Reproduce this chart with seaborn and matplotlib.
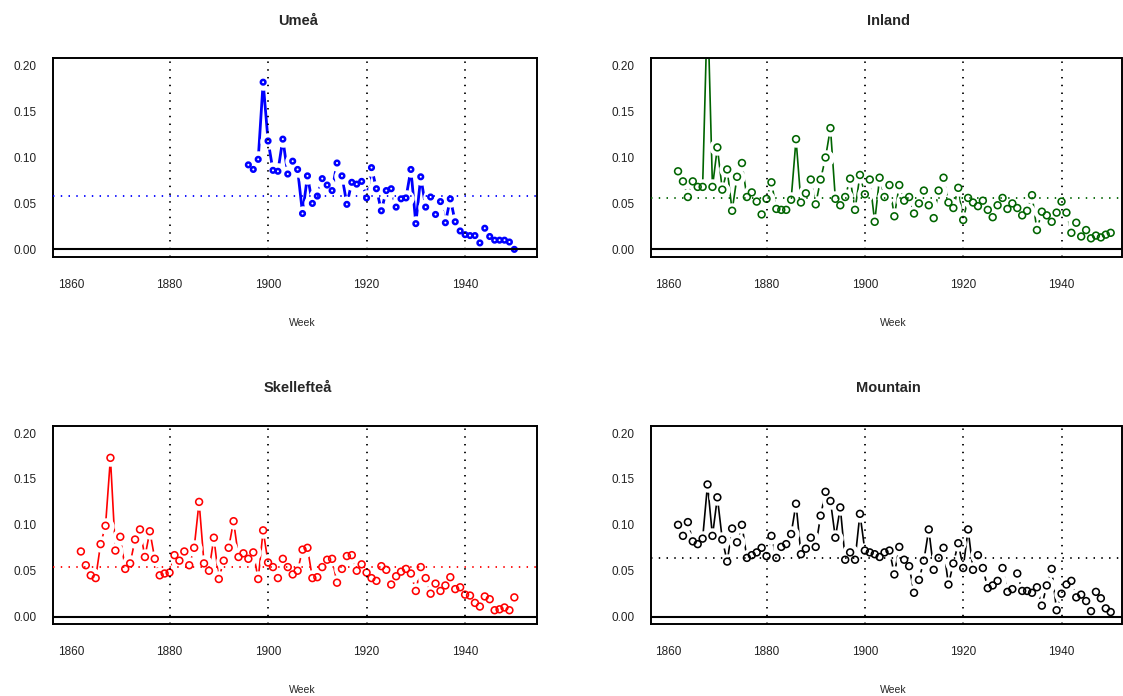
import matplotlib
matplotlib.use('Agg')
import matplotlib.pyplot as plt
import seaborn as sns
import numpy as np

# yearly series per region
ume_years = list(range(1896, 1951))
ume_vals = [0.092, 0.087, 0.098, 0.182, 0.118, 0.086, 0.085, 0.120, 0.082, 0.096,
            0.087, 0.039, 0.080, 0.050, 0.058, 0.077, 0.070, 0.064, 0.094, 0.080,
            0.049, 0.073, 0.071, 0.074, 0.056, 0.089, 0.066, 0.042, 0.064, 0.066,
            0.046, 0.055, 0.056, 0.087, 0.028, 0.079, 0.046, 0.057, 0.038, 0.052,
            0.029, 0.055, 0.030, 0.020, 0.016, 0.015, 0.015, 0.007, 0.023, 0.014,
            0.010, 0.010, 0.010, 0.008, 0.000]

inland_years = list(range(1862, 1951))
inland_vals = [0.085, 0.074, 0.057, 0.074, 0.068, 0.068, 0.270, 0.068, 0.111, 0.065,
               0.087, 0.042, 0.079, 0.094, 0.057, 0.062, 0.052, 0.038, 0.055, 0.073,
               0.044, 0.043, 0.043, 0.054, 0.120, 0.051, 0.061, 0.076, 0.049, 0.076,
               0.100, 0.132, 0.055, 0.048, 0.057, 0.077, 0.043, 0.081, 0.060, 0.076,
               0.030, 0.078, 0.057, 0.070, 0.036, 0.070, 0.053, 0.057, 0.039, 0.050,
               0.064, 0.048, 0.034, 0.064, 0.078, 0.051, 0.045, 0.067, 0.032, 0.056,
               0.051, 0.047, 0.053, 0.043, 0.035, 0.048, 0.056, 0.044, 0.050, 0.045,
               0.037, 0.042, 0.059, 0.021, 0.041, 0.037, 0.030, 0.040, 0.052, 0.040,
               0.018, 0.029, 0.014, 0.021, 0.012, 0.015, 0.013, 0.016, 0.018]

skel_years = list(range(1862, 1951))
skel_vals = [0.071, 0.056, 0.045, 0.042, 0.079, 0.099, 0.173, 0.072, 0.087, 0.052,
             0.058, 0.084, 0.095, 0.065, 0.093, 0.063, 0.045, 0.047, 0.048, 0.067,
             0.061, 0.071, 0.056, 0.075, 0.125, 0.058, 0.050, 0.086, 0.041, 0.061,
             0.075, 0.104, 0.065, 0.069, 0.063, 0.070, 0.041, 0.094, 0.059, 0.054,
             0.042, 0.063, 0.054, 0.046, 0.050, 0.073, 0.075, 0.042, 0.043, 0.054,
             0.062, 0.063, 0.037, 0.052, 0.066, 0.067, 0.050, 0.057, 0.048, 0.042,
             0.039, 0.055, 0.051, 0.035, 0.044, 0.049, 0.052, 0.047, 0.028, 0.054,
             0.042, 0.025, 0.036, 0.028, 0.034, 0.043, 0.030, 0.032, 0.024, 0.023,
             0.015, 0.011, 0.022, 0.019, 0.007, 0.008, 0.010, 0.007, 0.021]

mount_years = list(range(1862, 1951))
mount_vals = [0.100, 0.088, 0.103, 0.082, 0.079, 0.085, 0.144, 0.088, 0.130, 0.084,
              0.060, 0.096, 0.081, 0.100, 0.064, 0.067, 0.070, 0.075, 0.066, 0.088,
              0.064, 0.076, 0.079, 0.090, 0.123, 0.068, 0.074, 0.086, 0.076, 0.110,
              0.136, 0.126, 0.086, 0.119, 0.062, 0.070, 0.062, 0.112, 0.072, 0.070,
              0.068, 0.065, 0.070, 0.072, 0.046, 0.076, 0.062, 0.055, 0.026, 0.040,
              0.061, 0.095, 0.051, 0.064, 0.075, 0.035, 0.058, 0.080, 0.053, 0.095,
              0.051, 0.067, 0.053, 0.031, 0.034, 0.039, 0.053, 0.027, 0.030, 0.047,
              0.028, 0.028, 0.026, 0.032, 0.012, 0.034, 0.052, 0.007, 0.025, 0.035,
              0.039, 0.021, 0.024, 0.017, 0.006, 0.027, 0.020, 0.009, 0.005]

# regional means (dotted horizontal lines)
means = [0.058, 0.056, 0.054, 0.064]
titles = ['Umeå', 'Inland', 'Skellefteå', 'Mountain']
colors = ['blue', 'darkgreen', 'red', 'black']
xticks = [1860, 1880, 1900, 1920, 1940]
vlines = [1880, 1900, 1920, 1940]
yticks = [0.00, 0.05, 0.10, 0.15, 0.20]

sns.set_style('white')
plt.rcParams['font.family'] = ['Liberation Sans', 'DejaVu Sans']

W, H = 1123, 696
fig = plt.figure(figsize=(W / 100, H / 100), dpi=100)

# axes boxes in pixels: left, top, right, bottom
boxes = [(53.3, 58.3, 537, 256.7), (651, 58.3, 1121.5, 256.7),
         (53.3, 425.7, 537, 624), (651, 425.7, 1121.5, 624)]
xlims = [(1856.4, 1954.6), (1856.5, 1952.2), (1856.4, 1954.6), (1856.5, 1952.2)]

series = [(ume_years, ume_vals), (inland_years, inland_vals),
          (skel_years, skel_vals), (mount_years, mount_vals)]

for i, (yrs, vals) in enumerate(series):
    l, t, r, b = boxes[i]
    ax = fig.add_axes([l / W, 1 - b / H, (r - l) / W, (b - t) / H])
    c = colors[i]
    if i == 0:
        lw, ms, mew = 2.0, 11, 1.8
    else:
        lw, ms, mew = 1.2, 24, 1.15

    sns.lineplot(x=yrs, y=vals, ax=ax, color=c, lw=lw, zorder=1)
    # white disks make the gaps of an R type="b" plot
    sns.scatterplot(x=yrs, y=vals, ax=ax, color='white', s=140,
                    linewidth=0, zorder=2)
    sns.scatterplot(x=yrs, y=vals, ax=ax, marker='o', s=ms, facecolor='none',
                    edgecolor=c, linewidth=mew, zorder=3)

    for v in vlines:
        ax.axvline(v, color='black', lw=1.3, ls=(0, (0.8, 3.5)), zorder=4)
    ax.axhline(means[i], color=c, lw=1.3, ls=(0, (0.8, 3.5)), zorder=4)
    ax.axhline(0, color='black', lw=1.5, zorder=4)

    ax.set_xlim(*xlims[i])
    ax.set_ylim(-0.008, 0.208)
    ax.set_xticks(xticks)
    ax.set_xticklabels([str(x) for x in xticks])
    ax.set_yticks(yticks)
    ax.set_yticklabels(['%.2f' % y for y in yticks])
    ax.tick_params(axis='both', direction='out', length=7, width=1.4,
                   labelsize=8.5, color='black', labelcolor='#222222')
    ax.tick_params(axis='x', pad=9)
    ax.tick_params(axis='y', pad=5)
    for sp in ax.spines.values():
        sp.set_visible(True)
        sp.set_linewidth(1.4)
        sp.set_color('black')

    ax.set_title(titles[i], fontsize=10.5, fontweight='bold', pad=24, x=0.505)
    ax.set_xlabel('Week', fontsize=7.5)
    ax.xaxis.set_label_coords(0.515, -0.31)
    ax.set_ylabel('')

fig.savefig('out.png', dpi=100)
